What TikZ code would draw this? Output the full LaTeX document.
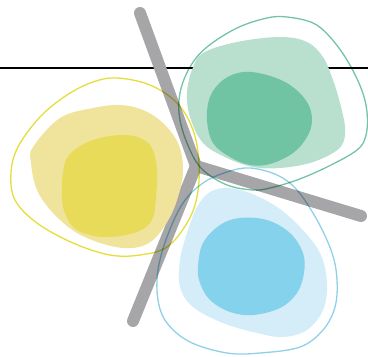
\documentclass[tikz,border=0pt]{standalone}
\usetikzlibrary{calc}
\definecolor{barg}{HTML}{A6A6A9}
\definecolor{ylight}{HTML}{F0E49C}
\definecolor{ydark}{HTML}{E8DB5A}
\definecolor{yline}{HTML}{E4DE3C}
\definecolor{glight}{HTML}{B9DFCF}
\definecolor{gdark}{HTML}{70C4A4}
\definecolor{gline}{HTML}{74C2A8}
\definecolor{blight}{HTML}{D4EDF8}
\definecolor{bdark}{HTML}{84D2EC}
\definecolor{bline}{HTML}{90D0E8}
\tikzset{
  blob/.style={smooth cycle, tension=0.6},
  outl/.style={line width=1.3pt, blend mode=multiply},
  barstyle/.style={draw=barg, line width=12pt, line cap=round, line join=round},
}
\begin{document}
\begin{tikzpicture}[x=1pt,y=-1pt]
\useasboundingbox (0,0) rectangle (368,357);
% horizontal rule
\coordinate (L0) at (0,68);
\coordinate (L1) at (368,68);
\draw[line width=2pt, black] (L0) -- (L1);
% gray Y bar
\coordinate (J) at (196,166);
\coordinate (T) at (140,13);
\coordinate (R) at (361,216);
\coordinate (B) at (133,321);
\draw[barstyle] (T) -- (J) -- (R);
\draw[barstyle] (J) -- (B);
% yellow group
\fill[ylight] plot[blob] coordinates {(33,147) (60,118) (93,108) (120,105) (143,110) (163,123) (178,143) (183,167) (180,190) (170,217) (153,240) (133,248) (107,245) (77,233) (53,213) (37,190) (31,163)};
\fill[ydark] plot[blob] coordinates {(63,173) (67,158) (80,146) (100,138) (123,135) (140,138) (152,148) (157,170) (156,197) (152,220) (137,232) (110,237) (90,235) (73,227) (63,207) (62,187)};
% green group
\fill[glight] plot[blob] coordinates {(203,53) (237,42) (280,37) (307,42) (323,57) (333,80) (340,103) (345,127) (343,143) (333,153) (310,163) (280,168) (253,167) (227,158) (203,143) (190,117) (187,93) (192,70)};
\fill[gdark] plot[blob] coordinates {(207,120) (210,97) (223,80) (243,72) (267,75) (290,85) (307,102) (312,120) (307,137) (293,153) (270,164) (250,165) (230,157) (213,143)};
% blue group
\fill[blight] plot[blob] coordinates {(210,192) (227,188) (250,193) (277,207) (300,227) (320,253) (327,283) (323,310) (307,330) (283,337) (257,333) (223,323) (193,307) (180,287) (180,260) (187,233) (197,207)};
\fill[bdark] plot[blob] coordinates {(198,267) (203,243) (220,225) (240,218) (267,220) (290,233) (303,253) (304,273) (297,293) (280,308) (253,315) (230,312) (210,300) (200,283)};
% outlines
\draw[outl, yline] plot[blob] coordinates {(117,78) (150,85) (177,103) (193,130) (199,163) (197,197) (187,223) (167,247) (140,255) (110,255) (73,243) (37,223) (15,200) (11,173) (18,147) (40,117) (67,95) (93,82)};
\draw[outl, gline] plot[blob] coordinates {(287,17) (313,23) (330,37) (347,60) (361,88) (367,112) (366,135) (357,150) (327,167) (297,180) (270,188) (253,190) (227,185) (203,170) (190,150) (180,120) (180,93) (190,67) (207,47) (237,28) (267,18)};
\draw[outl, bline] plot[blob] coordinates {(250,168) (277,175) (297,190) (317,220) (332,253) (337,280) (335,307) (323,330) (300,347) (260,353) (227,353) (190,342) (167,323) (158,300) (158,270) (167,237) (183,203) (203,183) (227,172)};
\end{tikzpicture}
\end{document}
